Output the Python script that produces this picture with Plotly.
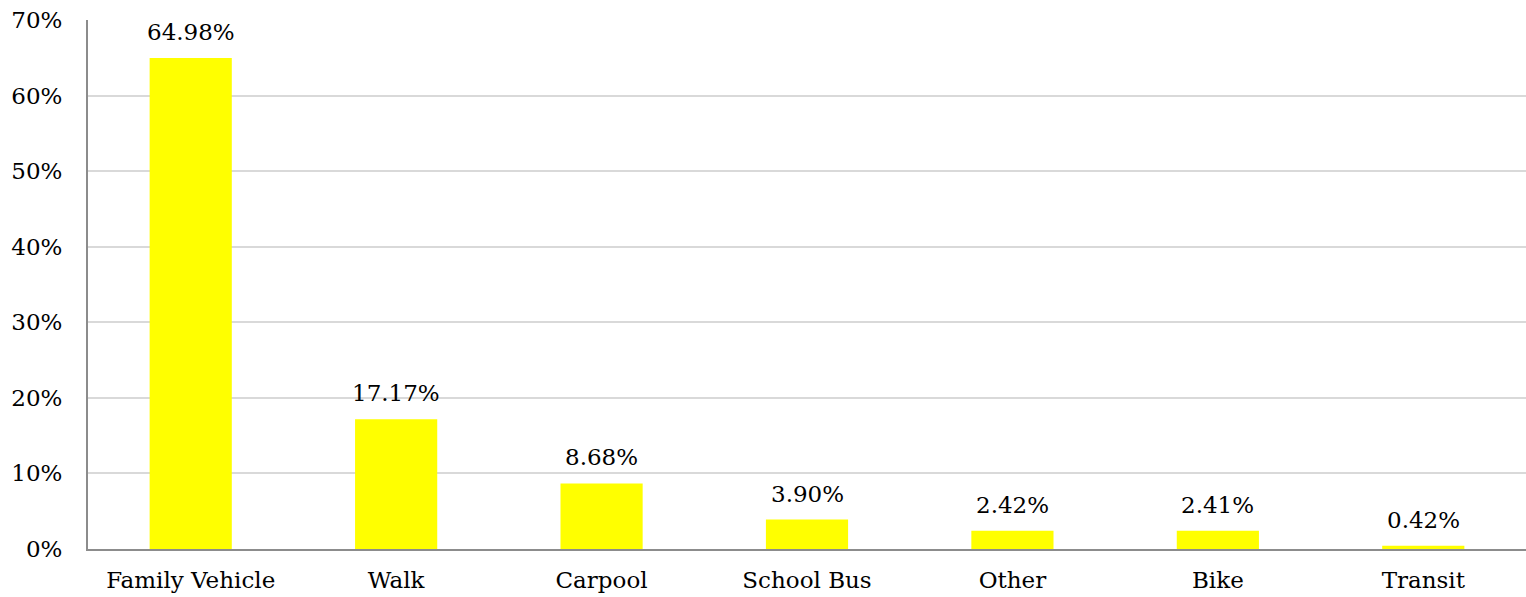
import plotly.graph_objects as go

categories = ["Family Vehicle", "Walk", "Carpool", "School Bus", "Other", "Bike", "Transit"]
values = [64.98, 17.17, 8.68, 3.90, 2.42, 2.41, 0.42]
value_labels = ["64.98%", "17.17%", "8.68%", "3.90%", "2.42%", "2.41%", "0.42%"]
y_ticks = [0, 10, 20, 30, 40, 50, 60, 70]
y_tick_labels = ["0%", "10%", "20%", "30%", "40%", "50%", "60%", "70%"]

FONT = "DejaVu Serif"
FS = 23

fig = go.Figure()
fig.add_trace(go.Bar(
    x=categories, y=values,
    marker=dict(color="#FFFF00", line=dict(width=0)),
    width=0.4,
    hoverinfo="skip",
))

for c, v, t in zip(categories, values, value_labels):
    fig.add_annotation(x=c, y=v, text=t, showarrow=False,
                       yanchor="bottom", yshift=11,
                       font=dict(family=FONT, size=FS, color="#000000"))

fig.update_layout(
    width=1526, height=597,
    margin=dict(l=88, r=0, t=20, b=48, autoexpand=False),
    paper_bgcolor="white", plot_bgcolor="white",
    showlegend=False,
    font=dict(family=FONT, size=FS, color="#000000"),
)
fig.update_xaxes(
    showline=True, linecolor="#8c8c8c", linewidth=2,
    showgrid=False, ticks="", tickfont=dict(family=FONT, size=FS, color="#000000"),
    ticklabelstandoff=9, automargin=False,
)
fig.update_yaxes(
    range=[0, 70], tickvals=y_ticks, ticktext=y_tick_labels,
    showgrid=True, gridcolor="#d9d9d9", gridwidth=1.5,
    showline=True, linecolor="#8c8c8c", linewidth=2,
    zeroline=False, ticks="",
    tickfont=dict(family=FONT, size=FS, color="#000000"),
    ticklabelstandoff=19, automargin=False,
)

fig.write_html("out.html", config={"displayModeBar": False},
               post_script="document.body.style.margin='0';document.body.style.overflow='hidden';")
